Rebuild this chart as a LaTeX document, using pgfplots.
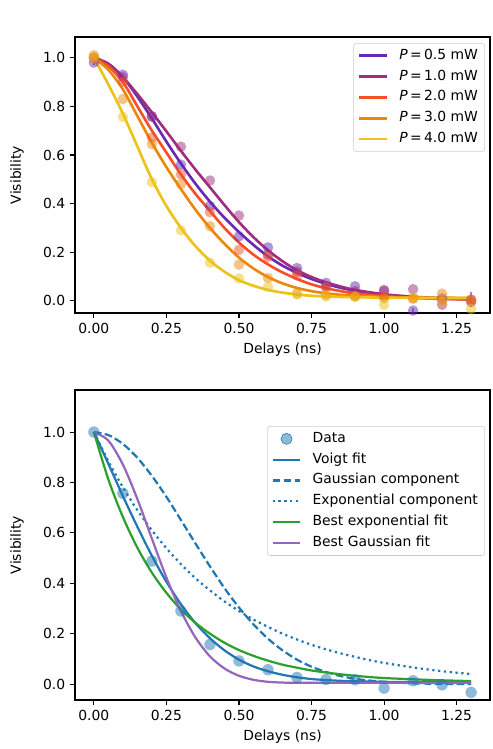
\documentclass[border=0pt]{standalone}
\usepackage{fontspec}
\setmainfont{DejaVu Sans}
\usepackage{pgfplots}
\usepackage{pgfplotstable}
\pgfplotsset{compat=1.18}

\definecolor{c05}{RGB}{104,42,180}
\definecolor{c10}{RGB}{160,45,125}
\definecolor{c20}{RGB}{245,80,40}
\definecolor{c30}{RGB}{235,135,10}
\definecolor{c40}{RGB}{235,195,25}
\definecolor{tabblue}{RGB}{31,119,180}
\definecolor{tabgreen}{RGB}{44,160,44}
\definecolor{tabpurple}{RGB}{148,103,189}

% measured points, panel (a); p40 is also the data of panel (b)
\pgfplotstableread{
x   p05    e05  p10    p20    p30    p40
0.0 0.98   0.01 1.00   1.00   1.01   1.00
0.1 0.93   0    0.92   0.90   0.83   0.757
0.2 0.757  0    0.76   0.672  0.645  0.488
0.3 0.56   0    0.634  0.52   0.48   0.29
0.4 0.39   0    0.495  0.365  0.307  0.157
0.5 0.265  0    0.351  0.21   0.149  0.092
0.6 0.22   0    0.19   0.18   0.094  0.057
0.7 0.135  0    0.12   0.105  0.03   0.026
0.8 0.074  0    0.06   0.057  0.023  0.018
0.9 0.06   0    0.04   0.02   0.018  0.017
1.0 0.04   0    0.045  0.02   0.01   -0.016
1.1 -0.04  0.01 0.048  0.01   0.01   0.013
1.2 0.01   0    -0.016 0.0    0.03   -0.003
1.3 0.005  0.03 -0.005 0.0    0.005  -0.033
}\dataA

% fitted curves, panel (a)
\pgfplotstableread{
x    m05   m10   m20   m30   m40
0.00 1     1     1     1     1
0.05 0.975 0.975 0.965 0.95  0.89
0.10 0.92  0.92  0.90  0.87  0.77
0.15 0.84  0.85  0.80  0.76  0.635
0.20 0.75  0.775 0.70  0.65  0.50
0.25 0.655 0.697 0.61  0.55  0.39
0.30 0.565 0.617 0.52  0.46  0.30
0.35 0.482 0.54  0.44  0.375 0.225
0.40 0.408 0.467 0.37  0.30  0.165
0.45 0.342 0.394 0.30  0.235 0.12
0.50 0.283 0.324 0.24  0.178 0.085
0.55 0.23  0.262 0.19  0.133 0.062
0.60 0.183 0.208 0.15  0.098 0.045
0.65 0.145 0.163 0.117 0.072 0.034
0.70 0.115 0.126 0.09  0.053 0.026
0.75 0.09  0.098 0.068 0.04  0.021
0.80 0.07  0.076 0.052 0.031 0.018
0.85 0.054 0.059 0.04  0.025 0.016
0.90 0.042 0.045 0.031 0.021 0.015
1.00 0.025 0.027 0.019 0.016 0.013
1.10 0.015 0.017 0.012 0.014 0.012
1.20 0.009 0.011 0.008 0.013 0.012
1.30 0.006 0.008 0.006 0.012 0.012
}\fitA

% fitted curves, panel (b)
\pgfplotstableread{
x    vo    ga    ex    be    bg
0.00 1     1     1     1     1
0.05 0.874 0.988 0.884 0.812 0.966
0.10 0.746 0.953 0.781 0.663 0.871
0.15 0.624 0.898 0.690 0.541 0.734
0.20 0.509 0.826 0.610 0.442 0.577
0.25 0.406 0.743 0.539 0.362 0.423
0.30 0.317 0.651 0.476 0.296 0.290
0.35 0.242 0.558 0.420 0.243 0.185
0.40 0.182 0.467 0.372 0.200 0.110
0.45 0.134 0.381 0.328 0.164 0.062
0.50 0.097 0.304 0.290 0.135 0.033
0.55 0.070 0.237 0.256 0.112 0.017
0.60 0.051 0.180 0.227 0.093 0.009
0.65 0.037 0.134 0.200 0.077 0.006
0.70 0.027 0.097 0.177 0.065 0.005
0.75 0.020 0.069 0.156 0.054 0.005
0.80 0.016 0.048 0.138 0.046 0.005
0.85 0.013 0.032 0.122 0.039 0.005
0.90 0.011 0.021 0.108 0.033 0.005
0.95 0.010 0.014 0.095 0.028 0.005
1.00 0.009 0.009 0.084 0.024 0.005
1.10 0.008 0.003 0.066 0.019 0.005
1.20 0.008 0.001 0.051 0.015 0.005
1.30 0.008 0.000 0.040 0.012 0.005
}\fitB

\pgfplotsset{
  panel/.style={
    scale only axis, width=298.8pt,
    anchor=south west,
    xmin=-0.065, xmax=1.365,
    xtick={0,0.25,0.5,0.75,1,1.25},
    ytick={0,0.2,0.4,0.6,0.8,1},
    xticklabel style={/pgf/number format/.cd,fixed,fixed zerofill,precision=2},
    yticklabel style={/pgf/number format/.cd,fixed,fixed zerofill,precision=1},
    /pgf/number format/assume math mode=true,
    tick label style={font=\fontsize{10}{12}\selectfont},
    label style={font=\fontsize{10}{12}\selectfont},
    tick align=outside, xtick pos=bottom, ytick pos=left,
    major tick length=3.5pt,
    every tick/.style={black, line width=0.8pt},
    axis line style={line width=0.8pt},
    xlabel={Delays (ns)}, ylabel={Visibility},
    ylabel shift=7pt,
    legend cell align=left,
    legend style={anchor=north east,
      draw=black!20, rounded corners=2pt, fill=white, fill opacity=0.8, text opacity=1,
      font=\fontsize{10}{12}\selectfont, row sep=1pt, inner xsep=3pt, inner ysep=2pt,
      nodes={text height=7.5pt, text depth=2.5pt, inner sep=2pt}},
    legend image code/.code={\draw[##1] (0pt,0pt) -- (20pt,0pt); \path (26pt,0pt);},
  },
  pts/.style={only marks, mark=*, mark size=3.8pt, forget plot, color=#1,
    mark options={draw opacity=0, fill=#1, fill opacity=0.5}},
  fit/.style={#1, line width=1.9pt, smooth},
  fitb/.style={#1, line width=1.6pt, smooth},
}

\newcommand{\Pw}[1]{\textit{P}\,=\,#1 mW}

\begin{document}
\begin{tikzpicture}
\useasboundingbox (0,0) rectangle (354.24pt,539.28pt);

\begin{axis}[panel, at={(54pt,313.9pt)}, height=198.7pt,
  ymin=-0.05, ymax=1.085,
  legend style={at={(1,1)}, xshift=-3.6pt, yshift=-4.3pt}]
\addplot[pts=c05, error bars/.cd, y dir=both, y explicit, error mark=none,
  error bar style={c05, line width=1pt, opacity=0.6}]
  table[x=x, y=p05, y error=e05] {\dataA};
\addplot[fit=c05] table[x=x, y=m05] {\fitA};
\addlegendentry{\Pw{0.5}}
\addplot[pts=c10] table[x=x, y=p10] {\dataA};
\addplot[fit=c10] table[x=x, y=m10] {\fitA};
\addlegendentry{\Pw{1.0}}
\addplot[pts=c20] table[x=x, y=p20] {\dataA};
\addplot[fit=c20] table[x=x, y=m20] {\fitA};
\addlegendentry{\Pw{2.0}}
\addplot[pts=c30] table[x=x, y=p30] {\dataA};
\addplot[fit=c30] table[x=x, y=m30] {\fitA};
\addlegendentry{\Pw{3.0}}
\addplot[pts=c40] table[x=x, y=p40] {\dataA};
\addplot[fit=c40] table[x=x, y=m40] {\fitA};
\addlegendentry{\Pw{4.0}}
\node[anchor=south west, inner sep=0pt, font=\fontsize{12}{14}\selectfont]
  at (rel axis cs:0,1) [yshift=6pt] {(a)};
\end{axis}

\begin{axis}[panel, at={(54pt,35.3pt)}, height=223.2pt,
  ymin=-0.063, ymax=1.167,
  legend style={at={(1,1)}, xshift=-3.6pt, yshift=-26pt}]
\addplot[only marks, mark=*, mark size=4.1pt, color=tabblue,
  mark options={draw opacity=0, fill=tabblue, fill opacity=0.5},
  legend image code/.code={\fill[tabblue, fill opacity=0.5] (10pt,0pt) circle (4pt); \path (26pt,0pt);}]
  table[x=x, y=p40] {\dataA};
\addlegendentry{Data}
\addplot[fitb=tabblue] table[x=x, y=vo] {\fitB};
\addlegendentry{Voigt fit}
\addplot[fitb=tabblue, dash pattern=on 5.55pt off 2.4pt] table[x=x, y=ga] {\fitB};
\addlegendentry{Gaussian component}
\addplot[fitb=tabblue, dash pattern=on 1.6pt off 2.6pt] table[x=x, y=ex] {\fitB};
\addlegendentry{Exponential component}
\addplot[fitb=tabgreen] table[x=x, y=be] {\fitB};
\addlegendentry{Best exponential fit}
\addplot[fitb=tabpurple] table[x=x, y=bg] {\fitB};
\addlegendentry{Best Gaussian fit}
\node[anchor=south west, inner sep=0pt, font=\fontsize{12}{14}\selectfont]
  at (rel axis cs:0,1) [yshift=6pt] {(b)};
\end{axis}
\end{tikzpicture}
\end{document}
